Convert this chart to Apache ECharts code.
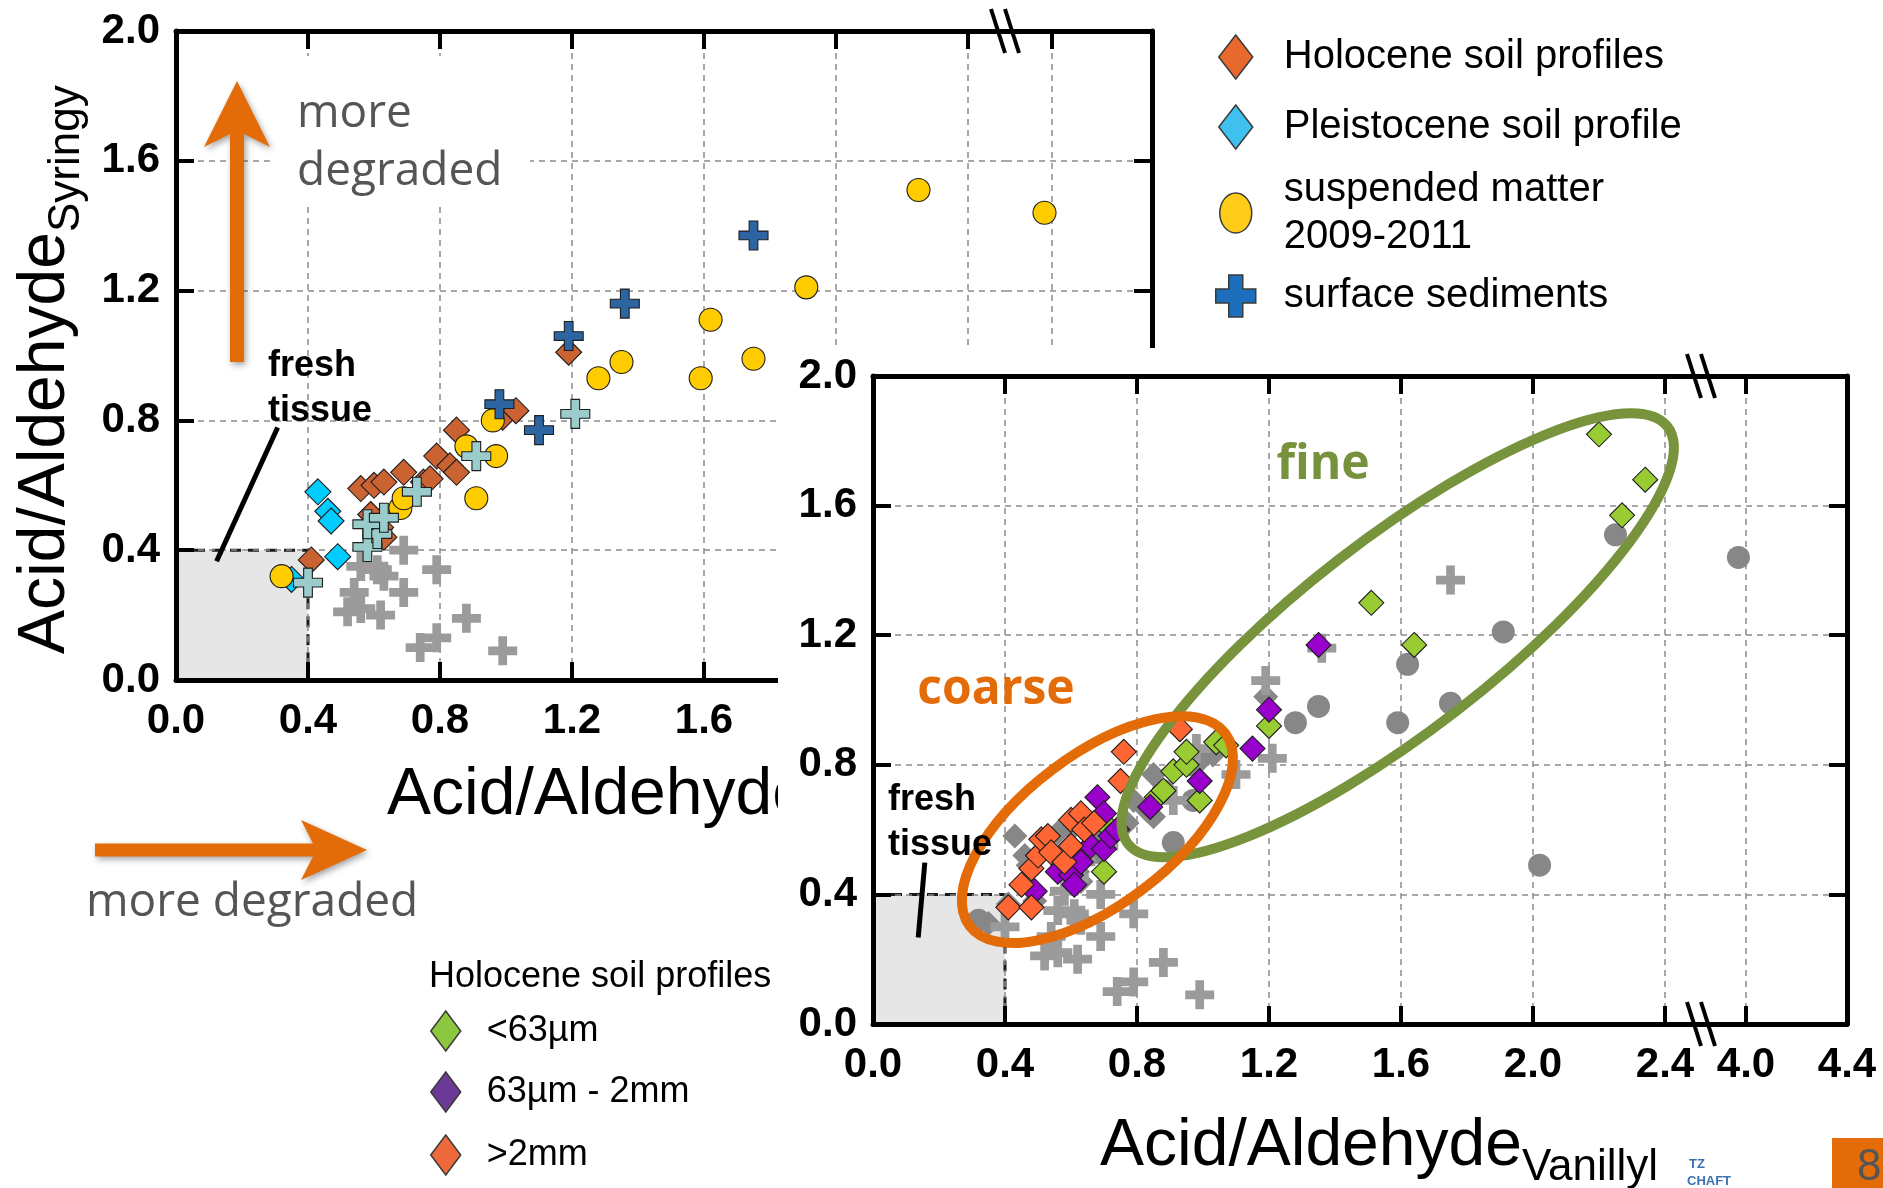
<!DOCTYPE html>
<html>
<head>
<meta charset="utf-8">
<title>Acid/Aldehyde ratios of lignin phenols</title>
<script src="https://cdn.jsdelivr.net/npm/echarts@6.0.0/dist/echarts.min.js"></script>
<style>
html,body{margin:0;padding:0;background:#fff;}
#chart{width:1883px;height:1188px;}
</style>
</head>
<body>
<div id="chart"></div>
<script>
// ---------- tick values ----------
const xTicksMain = [0, 0.4, 0.8, 1.2, 1.6, 2.0, 2.4];
const xTicksBreak = [4.0, 4.4];
const xTickBreakMark = [4.0];
const yTicks = [0, 0.4, 0.8, 1.2, 1.6, 2.0];

// ---------- overview panel: Acid/Aldehyde (Vanillyl vs Syringyl) ----------
const holoceneSoil = [[0.41,0.37],[0.56,0.59],[0.60,0.60],[0.63,0.61],[0.69,0.64],[0.59,0.51],[0.62,0.47],[0.63,0.44],[0.75,0.61],[0.77,0.62],[0.79,0.69],[0.83,0.66],[0.85,0.64],[0.85,0.77],[0.99,0.81],[1.03,0.83],[1.19,1.01]];
const pleistoceneSoil = [[0.43,0.58],[0.46,0.52],[0.47,0.49],[0.49,0.38],[0.35,0.31]];
const suspendedMatter = [[0.32,0.32],[0.68,0.53],[0.69,0.56],[0.88,0.72],[0.91,0.56],[0.96,0.80],[0.97,0.69],[1.28,0.93],[1.35,0.98],[1.59,0.93],[1.62,1.11],[1.75,0.99],[1.91,1.21],[2.25,1.51],[2.02,0.49],[3.97,1.44]];
const surfaceSediments = [[0.98,0.85],[1.10,0.77],[1.19,1.06],[1.36,1.16],[1.75,1.37]];
const sedimentsPale = [[0.40,0.30],[0.58,0.41],[0.61,0.45],[0.58,0.48],[0.63,0.50],[0.73,0.58],[0.91,0.69],[1.21,0.82]];
const sedimentsGrey = [[0.69,0.40],[0.79,0.34],[0.56,0.35],[0.61,0.34],[0.63,0.32],[0.54,0.27],[0.69,0.27],[0.52,0.21],[0.56,0.22],[0.62,0.20],[0.88,0.19],[0.79,0.13],[0.74,0.10],[0.99,0.09]];

// ---------- detail panel: Holocene soil profiles by grain size ----------
const fractionFine = [[0.70,0.47],[0.71,0.61],[0.86,0.70],[0.88,0.72],[0.91,0.78],[0.95,0.80],[0.95,0.84],[0.99,0.69],[1.04,0.87],[1.07,0.86],[1.20,0.92],[1.51,1.30],[1.64,1.17],[2.20,1.82],[2.27,1.57],[2.34,1.68]];
const fractionMid = [[0.49,0.41],[0.50,0.52],[0.56,0.47],[0.60,0.46],[0.61,0.43],[0.63,0.50],[0.66,0.55],[0.68,0.70],[0.70,0.65],[0.70,0.54],[0.72,0.58],[0.74,0.60],[0.84,0.67],[0.99,0.75],[1.15,0.85],[1.20,0.97],[1.35,1.17]];
const fractionCoarse = [[0.41,0.36],[0.48,0.36],[0.45,0.43],[0.48,0.48],[0.50,0.52],[0.51,0.57],[0.53,0.58],[0.54,0.53],[0.58,0.50],[0.60,0.55],[0.60,0.63],[0.63,0.65],[0.64,0.60],[0.67,0.62],[0.75,0.75],[0.76,0.84],[0.93,0.91]];

// fresh tissue reference box [x0, y0, x1, y1] and its pointer lines
const freshTissue = [[0, 0, 0.4, 0.4]];
const pointerMain = [[0.123, 0.366, 0.308, 0.778]];
const pointerDetail = [[0.137, 0.267, 0.157, 0.498]];

// ---------- styling ----------
const F = '"Liberation Sans", Arial, Helvetica, sans-serif';
const FO = '"Open Sans", "Noto Sans", sans-serif';
const BLACK = '#000';
const ORANGE = '#E36C09';
const CROSS = 'path://M7,0H13V7H20V13H13V20H7V13H0V7H7Z';
const ICON_DIAMOND = 'path://M17,0L34,22L17,44L0,22Z';
const ICON_DIAMOND_S = 'path://M15,0L30,20L15,40L0,20Z';
const ICON_ELLIPSE = 'path://M0,20A16,20,0,1,1,32,20A16,20,0,1,1,0,20Z';
const ICON_CROSS = 'path://M13,0H27V14H40V28H27V42H13V28H0V14H13Z';

// panel layout in pixels; the x axis is broken between 2.4 and 4.0
const PX_PER_04 = 132;
const panels = {
  main:   {x0: 176, top: 31,  h: 649, brk: 1006, x40: 1052, right: 1152},
  detail: {x0: 873, top: 376, h: 648, brk: 1702, x40: 1746, right: 1847}
};
function extents(p) {
  const maxLow = (p.brk - p.x0) / PX_PER_04 * 0.4;
  const pxPerUnitHigh = (p.right - p.x40) / 0.4;
  const minHigh = 4.0 - (p.x40 - p.brk) / pxPerUnitHigh;
  return {maxLow, minHigh};
}
const eMain = extents(panels.main);
const eDet = extents(panels.detail);

const gridLine = {show: true, lineStyle: {color: '#8c8c8c', width: 1.5, type: [6, 5]}};
const tickStyle = {color: BLACK, width: 4};
const tickLabel = {fontSize: 42, fontWeight: 'bold', fontFamily: F, color: BLACK, formatter: v => Number(v).toFixed(1)};

function xPair(gridIndex, min, max, ticks, labels, zlevel) {
  const base = {type: 'value', gridIndex, min, max, zlevel,
    axisLine: {show: true, onZero: false, lineStyle: {color: BLACK, width: 5}}};
  return [
    Object.assign({}, base, {position: 'bottom',
      axisTick: {show: true, inside: true, length: 18, customValues: ticks, lineStyle: tickStyle},
      axisLabel: Object.assign({show: true, margin: 20, customValues: labels}, tickLabel),
      splitLine: gridLine}),
    Object.assign({}, base, {position: 'top',
      axisTick: {show: true, inside: true, length: 18, customValues: ticks, lineStyle: tickStyle},
      axisLabel: {show: false}, splitLine: {show: false}})
  ];
}
function yLeft(gridIndex, zlevel, visible) {
  return {type: 'value', gridIndex, min: 0, max: 2.0, interval: 0.4, position: 'left', zlevel,
    axisLine: {show: visible, onZero: false, lineStyle: {color: BLACK, width: 5}},
    axisTick: {show: visible, inside: true, length: 18, customValues: yTicks, lineStyle: tickStyle},
    axisLabel: visible ? Object.assign({show: true, margin: 16, customValues: yTicks}, tickLabel) : {show: false},
    splitLine: gridLine};
}
function yRight(gridIndex, zlevel) {
  return {type: 'value', gridIndex, min: 0, max: 2.0, interval: 0.4, position: 'right', zlevel,
    axisLine: {show: true, onZero: false, lineStyle: {color: BLACK, width: 5}},
    axisTick: {show: true, inside: true, length: 18, customValues: yTicks, lineStyle: tickStyle},
    axisLabel: {show: false}, splitLine: {show: false}};
}

const AX = {
  mainLow:  {xAxisIndex: 0, yAxisIndex: 0},
  mainHigh: {xAxisIndex: 2, yAxisIndex: 1},
  detLow:   {xAxisIndex: 4, yAxisIndex: 3},
  detHigh:  {xAxisIndex: 6, yAxisIndex: 4}
};
const BREAK_AT = 3.0;
const below = d => d.filter(p => p[0] < BREAK_AT);
const above = d => d.filter(p => p[0] >= BREAK_AT);

function scatter(name, data, axes, symbol, size, color, outlined, zlevel) {
  return Object.assign({type: 'scatter', name, data, symbol, symbolSize: size, zlevel, silent: true,
    itemStyle: {color, opacity: 1, borderColor: outlined ? '#1e1e1e' : color, borderWidth: outlined ? 1.1 : 0},
    emphasis: {disabled: true}}, axes);
}
// one group split over both halves of the broken axis
function group(name, data, low, high, symbol, size, color, outlined, zlevel) {
  const out = [scatter(name, below(data), low, symbol, size, color, outlined, zlevel)];
  if (above(data).length) out.push(scatter(name, above(data), high, symbol, size, color, outlined, zlevel));
  return out;
}
function boxSeries(axes, zlevel) {
  return Object.assign({type: 'custom', name: 'fresh tissue', data: freshTissue, z: -1, zlevel, silent: true,
    renderItem: (params, api) => {
      const a = api.coord([api.value(0), api.value(1)]);
      const b = api.coord([api.value(2), api.value(3)]);
      return {type: 'rect', shape: {x: a[0], y: b[1], width: b[0] - a[0], height: a[1] - b[1]},
        style: {fill: '#e6e6e6', stroke: '#1a1a1a', lineWidth: 3, lineDash: [11, 7]}};
    }}, axes);
}
function pointerSeries(data, axes, zlevel) {
  return Object.assign({type: 'custom', name: 'fresh tissue pointer', data, z: 5, zlevel, silent: true,
    renderItem: (params, api) => {
      const a = api.coord([api.value(0), api.value(1)]);
      const b = api.coord([api.value(2), api.value(3)]);
      return {type: 'line', shape: {x1: a[0], y1: a[1], x2: b[0], y2: b[1]},
        style: {stroke: '#000', lineWidth: 5}};
    }}, axes);
}

const series = [].concat(
  // overview panel
  boxSeries(AX.mainLow, 0),
  pointerSeries(pointerMain, AX.mainLow, 0),
  group('other sediments', sedimentsGrey, AX.mainLow, AX.mainHigh, CROSS, 29, '#9b9b9b', false, 0),
  group('Holocene soil profiles', holoceneSoil, AX.mainLow, AX.mainHigh, 'diamond', 26, '#CB6232', true, 0),
  group('Pleistocene soil profile', pleistoceneSoil, AX.mainLow, AX.mainHigh, 'diamond', 26, '#00CCFF', true, 0),
  group('suspended matter 2009-2011', suspendedMatter, AX.mainLow, AX.mainHigh, 'circle', 23, '#FFCC00', true, 0),
  group('river bed sediments', sedimentsPale, AX.mainLow, AX.mainHigh, CROSS, 29, '#9ACCCC', true, 0),
  group('surface sediments', surfaceSediments, AX.mainLow, AX.mainHigh, CROSS, 29, '#2D65A3', true, 0),
  // detail panel
  boxSeries(AX.detLow, 2),
  pointerSeries(pointerDetail, AX.detLow, 2),
  group('suspended matter (all)', suspendedMatter, AX.detLow, AX.detHigh, 'circle', 23, '#878787', false, 2),
  group('soil profiles (bulk)', holoceneSoil.concat(pleistoceneSoil), AX.detLow, AX.detHigh, 'diamond', 25, '#878787', false, 2),
  group('sediments (all)', surfaceSediments.concat(sedimentsPale, sedimentsGrey), AX.detLow, AX.detHigh, CROSS, 29, '#9b9b9b', false, 2),
  group('<63µm', fractionFine, AX.detLow, AX.detHigh, 'diamond', 25, '#99CC33', true, 2),
  group('63µm - 2mm', fractionMid, AX.detLow, AX.detHigh, 'diamond', 25, '#9900CC', true, 2),
  group('>2mm', fractionCoarse, AX.detLow, AX.detHigh, 'diamond', 25, '#FF6633', true, 2)
);

// one legend per row so each row sits exactly where it belongs;
// the icon is drawn at the left of the item box, the text is centred on it
function legendRow(name, icon, iconW, color, cx, cy, w, h, fontSize, zlevel, formatter, lines) {
  const lineHeight = Math.round(fontSize * 1.18);
  const itemH = Math.max(h, (lines || 1) * lineHeight);
  const row = {show: true, data: [{name, icon, itemStyle: {color, borderColor: '#3a3a3a', borderWidth: 1.5}}],
    left: cx - iconW / 2, top: cy - itemH / 2, itemWidth: w, itemHeight: h, padding: 0, itemGap: 0,
    selectedMode: false, symbolKeepAspect: true, zlevel,
    textStyle: {fontSize, fontFamily: F, color: '#000', lineHeight}};
  if (formatter) row.formatter = formatter;
  return row;
}

const option = {
  animation: false,
  backgroundColor: '#fff',
  textStyle: {fontFamily: F},
  grid: [
    {left: panels.main.x0, top: panels.main.top, width: panels.main.brk - panels.main.x0, height: panels.main.h},
    {left: panels.main.brk, top: panels.main.top, width: panels.main.right - panels.main.brk, height: panels.main.h},
    {left: panels.detail.x0, top: panels.detail.top, width: panels.detail.brk - panels.detail.x0, height: panels.detail.h},
    {left: panels.detail.brk, top: panels.detail.top, width: panels.detail.right - panels.detail.brk, height: panels.detail.h}
  ].map(g => Object.assign(g, {containLabel: false, outerBoundsMode: 'none'})),
  xAxis: [].concat(
    xPair(0, 0, eMain.maxLow, xTicksMain, xTicksMain, 0),
    xPair(1, eMain.minHigh, 4.4, xTickBreakMark, xTicksBreak, 0),
    xPair(2, 0, eDet.maxLow, xTicksMain, xTicksMain, 2),
    xPair(3, eDet.minHigh, 4.4, xTickBreakMark, xTicksBreak, 2)
  ),
  yAxis: [yLeft(0, 0, true), yLeft(1, 0, false), yRight(1, 0), yLeft(2, 2, true), yLeft(3, 2, false), yRight(3, 2)],
  legend: [
    legendRow('Holocene soil profiles', ICON_DIAMOND, 34, '#E8692D', 1235, 57, 86, 44, 40, 0),
    legendRow('Pleistocene soil profile', ICON_DIAMOND, 34, '#3EC1EF', 1235, 127, 86, 44, 40, 0),
    legendRow('suspended matter 2009-2011', ICON_ELLIPSE, 32, '#FFCC1A', 1235, 213, 86, 40, 40, 0, n => n.replace(' 2009', '\n2009'), 2),
    legendRow('surface sediments', ICON_CROSS, 40, '#1C6FBC', 1235, 296, 86, 42, 40, 0),
    legendRow('<63µm', ICON_DIAMOND_S, 30, '#8DC63F', 445, 1031, 72, 40, 36, 2),
    legendRow('63µm - 2mm', ICON_DIAMOND_S, 30, '#6C3A96', 445, 1092, 72, 40, 36, 2),
    legendRow('>2mm', ICON_DIAMOND_S, 30, '#EE6A3C', 445, 1155, 72, 40, 36, 2)
  ],
  series
};

const chart = echarts.init(document.getElementById('chart'));
chart.setOption(option);

// ---------- annotations ----------
function textWidth(text, size, weight) {
  const ctx = document.createElement('canvas').getContext('2d');
  ctx.font = (weight || 'normal') + ' ' + size + 'px ' + F;
  return ctx.measureText(text).width;
}
function txt(text, x, y, size, opts) {
  return Object.assign({type: 'text', x, y, zlevel: 0, z: 5,
    style: Object.assign({text, fontSize: size, fontFamily: F, fill: '#000', align: 'left', verticalAlign: 'middle'}, (opts && opts.style) || {})},
    opts && opts.el || {});
}
// axis title with a subscript, horizontal or rotated
function axisTitle(x, y, main, sub, rotated, zlevel) {
  const w = textWidth(main, 66);
  const off = 21;
  if (!rotated) {
    return [
      txt(main, x, y, 66, {el: {zlevel}}),
      txt(sub, x + w, y + off, 44, {el: {zlevel}})
    ];
  }
  return [
    txt(main, x, y, 66, {el: {zlevel, rotation: Math.PI / 2}}),
    txt(sub, x + off, y - w, 44, {el: {zlevel, rotation: Math.PI / 2}})
  ];
}
function breakMark(cx, cy, zlevel) {
  return [-8, 6].map(dx => ({type: 'line', zlevel, z: 12,
    shape: {x1: cx + dx - 7, y1: cy - 22, x2: cx + dx + 7, y2: cy + 22},
    style: {stroke: '#000', lineWidth: 4}}));
}
const shadow = {shadowBlur: 6, shadowOffsetX: 2, shadowOffsetY: 3, shadowColor: 'rgba(0,0,0,0.35)'};

const grainEllipses = [
  {center: [1.59, 1.20], rx: 341, ry: 96, angle: 37.7, color: '#77933C'},
  {center: [0.68, 0.60], rx: 160, ry: 75, angle: 37, color: ORANGE}
];
const detailFinder = {xAxisIndex: 4, yAxisIndex: 3};

const elements = [
  // overview panel decorations
  {type: 'rect', zlevel: 0, z: 1, shape: {x: 272, y: 56, width: 258, height: 150}, style: {fill: '#fff'}},
  {type: 'polygon', zlevel: 0, z: 5, shape: {points: [[237,81],[270,147],[244,134],[244,362],[230,362],[230,134],[204,147]]},
    style: Object.assign({fill: ORANGE}, shadow)},
  {type: 'polygon', zlevel: 0, z: 5, shape: {points: [[95,843.5],[313,843.5],[301,820],[367,850],[301,880],[313,856.5],[95,856.5]]},
    style: Object.assign({fill: ORANGE}, shadow)},
  txt('more', 297, 114, 46, {style: {fontFamily: FO, fill: '#555'}}),
  txt('degraded', 297, 172, 46, {style: {fontFamily: FO, fill: '#555'}}),
  txt('more degraded', 86, 903, 46, {style: {fontFamily: FO, fill: '#555'}}),
  txt('fresh', 268, 366, 36, {style: {fontWeight: 'bold'}}),
  txt('tissue', 268, 411, 36, {style: {fontWeight: 'bold'}})
].concat(
  axisTitle(387, 796, 'Acid/Aldehyde', 'Vanillyl', false, 0),
  axisTitle(46, 654, 'Acid/Aldehyde', 'Syringy', true, 0),
  breakMark(panels.main.brk, panels.main.top, 0),
  [
    // white backdrop of the detail panel
    {type: 'rect', zlevel: 1, z: 0, shape: {x: 778, y: 348, width: 1105, height: 840}, style: {fill: '#fff'}}
  ],
  grainEllipses.map(e => {
    const c = chart.convertToPixel(detailFinder, e.center);
    return {type: 'ellipse', zlevel: 2, z: 10, x: c[0], y: c[1], rotation: e.angle * Math.PI / 180,
      shape: {cx: 0, cy: 0, rx: e.rx, ry: e.ry}, style: {fill: null, stroke: e.color, lineWidth: 10}};
  }),
  [
    txt('fine', 1323, 465, 48, {el: {zlevel: 2, z: 11}, style: {fontFamily: FO, fontWeight: 'bold', fill: '#76923C', align: 'center'}}),
    txt('coarse', 996, 690, 48, {el: {zlevel: 2, z: 11}, style: {fontFamily: FO, fontWeight: 'bold', fill: ORANGE, align: 'center'}}),
    txt('fresh', 888, 800, 36, {el: {zlevel: 2, z: 11}, style: {fontWeight: 'bold'}}),
    txt('tissue', 888, 845, 36, {el: {zlevel: 2, z: 11}, style: {fontWeight: 'bold'}}),
    txt('Holocene soil profiles', 429, 977, 36, {el: {zlevel: 2}}),
    {type: 'rect', zlevel: 2, z: 1, shape: {x: 1832, y: 1138, width: 51, height: 50}, style: {fill: ORANGE}},
    txt('8', 1857, 1168, 44, {el: {zlevel: 2, z: 2}, style: {fill: '#555'}}),
    txt('TZ', 1689, 1164, 13, {el: {zlevel: 2}, style: {fontWeight: 'bold', fill: '#3B73B0'}}),
    txt('CHAFT', 1687, 1181, 13, {el: {zlevel: 2}, style: {fontWeight: 'bold', fill: '#3B73B0'}})
  ],
  axisTitle(1100, 1147, 'Acid/Aldehyde', 'Vanillyl', false, 2),
  breakMark(panels.detail.brk, panels.detail.top, 2),
  breakMark(panels.detail.brk, panels.detail.top + panels.detail.h, 2)
);

chart.setOption({graphic: {elements}});
</script>
</body>
</html>
